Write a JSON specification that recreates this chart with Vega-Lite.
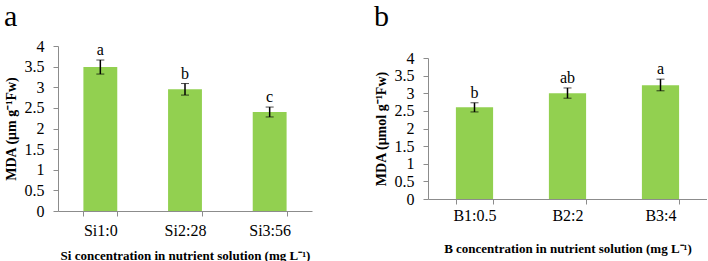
{
  "$schema": "https://vega.github.io/schema/vega-lite/v6.json",
  "background": "white",
  "padding": {"left": 4, "top": 2, "right": 0, "bottom": 0},
  "bounds": "flush",
  "center": true,
  "spacing": 116,
  "datasets": {
    "si": [
      {"cat": "Si1:0", "mean": 3.49, "lo": 3.32, "hi": 3.66, "letter": "a"},
      {"cat": "Si2:28", "mean": 2.95, "lo": 2.81, "hi": 3.09, "letter": "b"},
      {"cat": "Si3:56", "mean": 2.4, "lo": 2.28, "hi": 2.52, "letter": "c"}
    ],
    "b": [
      {"cat": "B1:0.5", "mean": 2.6, "lo": 2.47, "hi": 2.73, "letter": "b"},
      {"cat": "B2:2", "mean": 3.0, "lo": 2.86, "hi": 3.15, "letter": "ab"},
      {"cat": "B3:4", "mean": 3.23, "lo": 3.07, "hi": 3.4, "letter": "a"}
    ]
  },
  "config": {
    "view": {"stroke": null},
    "font": "Liberation Serif",
    "axis": {
      "labelFont": "Liberation Serif",
      "titleFont": "Liberation Serif",
      "labelColor": "black",
      "titleColor": "black",
      "domainColor": "#8c8c8c",
      "tickColor": "#8c8c8c",
      "grid": false,
      "labelFontSize": 16,
      "titleFontSize": 13,
      "titleFontWeight": "bold",
      "labelOverlap": false
    },
    "axisY": {"tickCount": 8, "tickSize": 5, "labelPadding": 9, "titlePadding": 6, "titleFontSize": 14},
    "title": {"font": "Liberation Serif", "fontSize": 30, "fontWeight": "normal", "anchor": "start", "color": "black"}
  },
  "hconcat": [
    {
      "width": 254,
      "height": 165,
      "title": {"text": "a", "offset": 6},
      "data": {"name": "si"},
      "encoding": {
        "x": {"field": "cat", "type": "nominal", "sort": null,
          "scale": {"paddingInner": 0.6, "paddingOuter": 0.3},
          "axis": {"labelAngle": 0, "tickBand": "extent", "tickSize": 5, "labelPadding": 6,
            "title": "Si concentration in nutrient solution (mg L⁻¹)", "titlePadding": 11}}
      },
      "layer": [
        {"mark": {"type": "bar", "color": "#92d050"},
          "encoding": {"y": {"field": "mean", "type": "quantitative",
            "scale": {"domain": [0, 4]}, "title": "MDA (μm g⁻¹Fw)", "axis": {"format": "~g"}}}},
        {"mark": {"type": "errorbar", "color": "black", "ticks": {"size": 8, "color": "black"}, "rule": {"strokeWidth": 1.5}},
          "encoding": {"y": {"field": "lo", "type": "quantitative", "title": "MDA (μm g⁻¹Fw)", "axis": {"format": "~g"}}, "y2": {"field": "hi"}}},
        {"mark": {"type": "text", "baseline": "bottom", "dy": -2, "fontSize": 16, "font": "Liberation Serif"},
          "encoding": {"y": {"field": "hi", "type": "quantitative", "title": "MDA (μm g⁻¹Fw)", "axis": {"format": "~g"}}, "text": {"field": "letter"}}}
      ]
    },
    {
      "width": 279,
      "height": 141,
      "title": {"text": "b", "offset": 18},
      "data": {"name": "b"},
      "encoding": {
        "x": {"field": "cat", "type": "nominal", "sort": null,
          "scale": {"paddingInner": 0.6, "paddingOuter": 0.3},
          "axis": {"labelAngle": 0, "tickBand": "extent", "tickSize": 5, "labelPadding": 3,
            "title": "B concentration in nutrient solution (mg L⁻¹)", "titlePadding": 19}}
      },
      "layer": [
        {"mark": {"type": "bar", "color": "#92d050"},
          "encoding": {"y": {"field": "mean", "type": "quantitative",
            "scale": {"domain": [0, 4]}, "title": "MDA (μmol g⁻¹Fw)", "axis": {"format": "~g"}}}},
        {"mark": {"type": "errorbar", "color": "black", "ticks": {"size": 8, "color": "black"}, "rule": {"strokeWidth": 1.5}},
          "encoding": {"y": {"field": "lo", "type": "quantitative", "title": "MDA (μmol g⁻¹Fw)", "axis": {"format": "~g"}}, "y2": {"field": "hi"}}},
        {"mark": {"type": "text", "baseline": "bottom", "dy": -2, "fontSize": 16, "font": "Liberation Serif"},
          "encoding": {"y": {"field": "hi", "type": "quantitative", "title": "MDA (μmol g⁻¹Fw)", "axis": {"format": "~g"}}, "text": {"field": "letter"}}}
      ]
    }
  ]
}
